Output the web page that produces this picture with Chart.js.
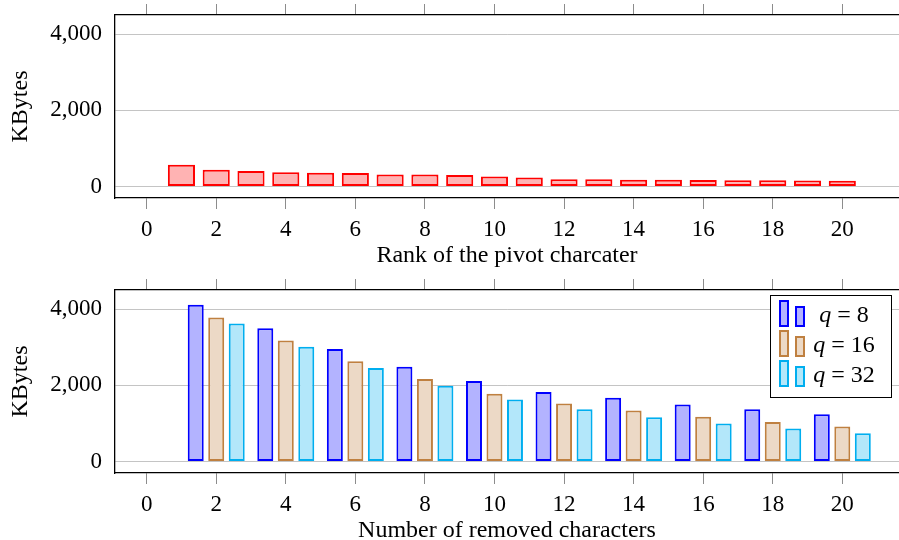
<!DOCTYPE html>
<html>
<head>
<meta charset="utf-8">
<title>KBytes by pivot rank and removed characters</title>
<script src="https://cdn.jsdelivr.net/npm/chart.js@4.4.1/dist/chart.umd.min.js"></script>
<style>
  html, body { margin: 0; padding: 0; background: #fff; overflow: hidden; }
  .panel { position: absolute; left: 0; width: 899px; height: 273px; }
  #topPanel { top: 0; }
  #bottomPanel { top: 275px; }
</style>
</head>
<body>
<div class="panel" id="topPanel"><canvas id="pivotChart"></canvas></div>
<div class="panel" id="bottomPanel"><canvas id="removedChart"></canvas></div>
<script>
// top chart: size per rank of the pivot character
const pivotRanks = [1, 2, 3, 4, 5, 6, 7, 8, 9, 10, 11, 12, 13, 14, 15, 16, 17, 18, 19, 20];
const pivotKBytes = [570, 440, 405, 378, 360, 355, 316, 316, 305, 263, 237, 195, 190, 180, 180, 170, 165, 165, 158, 155];

// bottom chart: size per number of removed characters, one series per q
const removedCounts = [2, 4, 6, 8, 10, 12, 14, 16, 18, 20];
const qValues = [8, 16, 32];
const kbytesQ8 = [4110, 3500, 2950, 2490, 2110, 1825, 1675, 1500, 1370, 1240];
const kbytesQ16 = [3780, 3175, 2630, 2165, 1780, 1525, 1340, 1175, 1035, 920];
const kbytesQ32 = [3620, 3010, 2455, 1990, 1625, 1370, 1160, 1000, 870, 745];

// tick positions
const xTicks = [0, 2, 4, 6, 8, 10, 12, 14, 16, 18, 20];
const yTicks = [0, 2000, 4000];

const FONT = "'Liberation Serif', 'Times New Roman', serif";

function toPoints(xs, ys) {
  return xs.map((x, i) => ({ x: x, y: ys[i] }));
}

function fixedTicks(values) {
  return (s) => { s.ticks = values.map((v) => ({ value: v })); };
}

function axesFor(xTitle) {
  return {
    x: {
      type: 'linear',
      position: 'bottom',
      min: -0.91,
      max: 21.63,
      offset: false,
      afterBuildTicks: fixedTicks(xTicks),
      afterFit: (s) => { s.height = 75; },
      border: { display: true, color: '#000', width: 1.3 },
      grid: { offset: false, drawOnChartArea: false, drawTicks: true, tickLength: 11, tickColor: '#8c8c8c' },
      ticks: {
        color: '#000',
        padding: 7,
        maxRotation: 0,
        autoSkip: false,
        font: { family: FONT, size: 23 }
      },
      title: {
        display: true,
        text: xTitle,
        color: '#000',
        padding: { top: 0, bottom: 3 },
        font: { family: FONT, size: 24 }
      }
    },
    xTop: {
      type: 'linear',
      position: 'top',
      min: -0.91,
      max: 21.63,
      offset: false,
      afterBuildTicks: fixedTicks(xTicks),
      afterFit: (s) => { s.height = 15; },
      border: { display: true, color: '#000', width: 1.3 },
      grid: { offset: false, drawOnChartArea: false, drawTicks: true, tickLength: 11, tickColor: '#8c8c8c' },
      ticks: { display: false }
    },
    y: {
      min: -300,
      max: 4500,
      afterBuildTicks: fixedTicks(yTicks),
      afterFit: (s) => { s.width = 115; s.paddingTop = 0; s.paddingBottom = 0; },
      border: { display: true, color: '#000', width: 1.3 },
      grid: { color: '#c4c4c4', lineWidth: 1, drawTicks: false },
      ticks: {
        color: '#000',
        padding: 13,
        font: { family: FONT, size: 23 },
        callback: (v) => v.toLocaleString('en-US')
      },
      title: {
        display: true,
        text: 'KBytes',
        color: '#000',
        padding: { top: 6, bottom: 0 },
        font: { family: FONT, size: 24 }
      }
    }
  };
}

// legend drawn inside the plot, top right, with the two-bar pgfplots-style icon
const qLegend = {
  id: 'qLegend',
  afterDraw(chart) {
    const { ctx, chartArea } = chart;
    const w = 121, h = 102;
    const left = Math.round(chartArea.right - 8 - w);
    const top = Math.round(chartArea.top + 5);
    ctx.save();
    ctx.fillStyle = '#fff';
    ctx.fillRect(left, top, w, h);
    ctx.strokeStyle = '#000';
    ctx.lineWidth = 1;
    ctx.strokeRect(left + 0.5, top + 0.5, w, h);
    chart.data.datasets.forEach((ds, i) => {
      const base = top + 31 + i * 30;
      ctx.fillStyle = ds.backgroundColor;
      ctx.strokeStyle = ds.borderColor;
      ctx.lineWidth = 2;
      ctx.fillRect(left + 10, base - 25, 8, 25);
      ctx.strokeRect(left + 10, base - 25, 8, 25);
      ctx.fillRect(left + 26, base - 19, 8, 19);
      ctx.strokeRect(left + 26, base - 19, 8, 19);

      const rest = ' = ' + qValues[i];
      ctx.fillStyle = '#000';
      ctx.textBaseline = 'alphabetic';
      ctx.font = 'italic 24px ' + FONT;
      const qw = ctx.measureText('q').width;
      ctx.font = '24px ' + FONT;
      const rw = ctx.measureText(rest).width;
      const x0 = left + 74 - (qw + rw) / 2;
      ctx.font = 'italic 24px ' + FONT;
      ctx.fillText('q', x0, base - 4);
      ctx.font = '24px ' + FONT;
      ctx.fillText(rest, x0 + qw, base - 4);
    });
    ctx.restore();
  }
};

const common = {
  responsive: true,
  maintainAspectRatio: false,
  animation: false,
  layout: { padding: { left: 0, right: 0, top: 0, bottom: 0 } },
  plugins: { legend: { display: false }, tooltip: { enabled: false } }
};

new Chart(document.getElementById('pivotChart'), {
  type: 'bar',
  data: {
    datasets: [{
      label: 'KBytes',
      data: toPoints(pivotRanks, pivotKBytes),
      backgroundColor: '#ffb3b3',
      borderColor: '#ff0000',
      borderWidth: 2,
      borderSkipped: false,
      categoryPercentage: 1,
      barPercentage: 0.78
    }]
  },
  options: Object.assign({}, common, { scales: axesFor('Rank of the pivot charcater') })
});

const seriesStyle = [
  { stroke: '#0000ff', fill: '#b3b3ff', values: kbytesQ8 },
  { stroke: '#bf8040', fill: '#ecd9c6', values: kbytesQ16 },
  { stroke: '#00aeef', fill: '#b3e7fa', values: kbytesQ32 }
];

new Chart(document.getElementById('removedChart'), {
  type: 'bar',
  data: {
    datasets: seriesStyle.map((s, i) => ({
      label: 'q = ' + qValues[i],
      data: toPoints(removedCounts, s.values),
      backgroundColor: s.fill,
      borderColor: s.stroke,
      borderWidth: 2,
      borderSkipped: false,
      categoryPercentage: 0.884,
      barPercentage: 0.78
    }))
  },
  options: Object.assign({}, common, { scales: axesFor('Number of removed characters') }),
  plugins: [qLegend]
});
</script>
</body>
</html>
